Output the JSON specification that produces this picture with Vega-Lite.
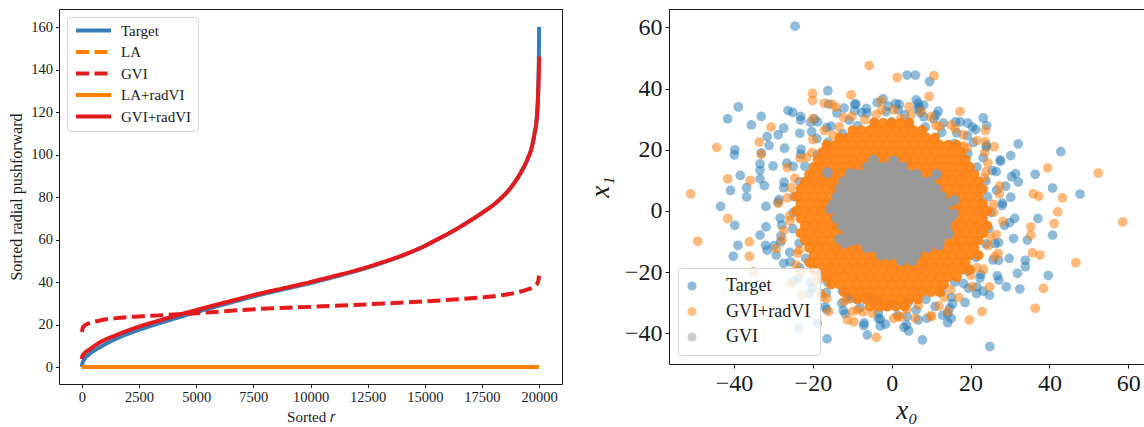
{
"$schema": "https://vega.github.io/schema/vega-lite/v6.json",
"background": "white",
"padding": {"left": 8, "top": 8, "right": 0, "bottom": 0},
"spacing": 22,
"config": {
  "font": "Liberation Serif",
  "view": {"stroke": "#1a1a1a", "strokeWidth": 1},
  "axis": {"grid": false, "domain": false, "tickColor": "#1a1a1a", "labelColor": "#1a1a1a", "titleColor": "#1a1a1a", "titleFontWeight": "normal", "labelFont": "Liberation Serif", "titleFont": "Liberation Serif"},
  "legend": {"labelFont": "Liberation Serif", "labelColor": "#1a1a1a"}
},
"datasets": {
"lines": [
{"s":"Target","i":0,"v":0},{"s":"Target","i":20,"v":1.5},{"s":"Target","i":100,"v":3.5},{"s":"Target","i":300,"v":5.8},{"s":"Target","i":742,"v":9},{"s":"Target","i":1500,"v":13.3},{"s":"Target","i":2500,"v":17.5},{"s":"Target","i":3360,"v":20.5},{"s":"Target","i":5000,"v":25.8},{"s":"Target","i":6500,"v":30.3},{"s":"Target","i":7720,"v":33.8},{"s":"Target","i":9000,"v":37},{"s":"Target","i":10000,"v":39.5},{"s":"Target","i":11000,"v":42.3},{"s":"Target","i":12000,"v":45.2},{"s":"Target","i":13000,"v":48.5},{"s":"Target","i":14000,"v":52.3},{"s":"Target","i":15000,"v":57},{"s":"Target","i":15500,"v":59.8},{"s":"Target","i":16150,"v":63.5},{"s":"Target","i":17000,"v":69},{"s":"Target","i":17500,"v":72.5},{"s":"Target","i":18240,"v":78.5},{"s":"Target","i":18800,"v":85},{"s":"Target","i":19250,"v":92.5},{"s":"Target","i":19500,"v":98},{"s":"Target","i":19690,"v":104},{"s":"Target","i":19800,"v":110},{"s":"Target","i":19910,"v":119},{"s":"Target","i":19970,"v":135},{"s":"Target","i":19990,"v":148},{"s":"Target","i":20000,"v":160},
{"s":"LA","i":0,"v":0},{"s":"LA","i":20000,"v":0},
{"s":"GVI","i":0,"v":16.5},{"s":"GVI","i":30,"v":18},{"s":"GVI","i":100,"v":19.3},{"s":"GVI","i":300,"v":20.5},{"s":"GVI","i":742,"v":21.8},{"s":"GVI","i":1500,"v":23},{"s":"GVI","i":2500,"v":23.8},{"s":"GVI","i":3360,"v":24.3},{"s":"GVI","i":5000,"v":25.3},{"s":"GVI","i":7720,"v":27.3},{"s":"GVI","i":10000,"v":28.3},{"s":"GVI","i":12500,"v":29.5},{"s":"GVI","i":15000,"v":30.9},{"s":"GVI","i":16440,"v":31.9},{"s":"GVI","i":17500,"v":32.8},{"s":"GVI","i":18500,"v":34},{"s":"GVI","i":19000,"v":35},{"s":"GVI","i":19500,"v":36.5},{"s":"GVI","i":19800,"v":38},{"s":"GVI","i":19950,"v":40},{"s":"GVI","i":20000,"v":43},
{"s":"LA+radVI","i":0,"v":0},{"s":"LA+radVI","i":20000,"v":0},
{"s":"GVI+radVI","i":0,"v":3.8},{"s":"GVI+radVI","i":20,"v":5},{"s":"GVI+radVI","i":100,"v":6.3},{"s":"GVI+radVI","i":300,"v":8},{"s":"GVI+radVI","i":742,"v":11.3},{"s":"GVI+radVI","i":1500,"v":15},{"s":"GVI+radVI","i":2500,"v":19},{"s":"GVI+radVI","i":3360,"v":21.8},{"s":"GVI+radVI","i":5000,"v":26.8},{"s":"GVI+radVI","i":6500,"v":31},{"s":"GVI+radVI","i":7720,"v":34.4},{"s":"GVI+radVI","i":9000,"v":37.5},{"s":"GVI+radVI","i":10000,"v":40},{"s":"GVI+radVI","i":11000,"v":42.7},{"s":"GVI+radVI","i":12000,"v":45.5},{"s":"GVI+radVI","i":13000,"v":48.8},{"s":"GVI+radVI","i":14000,"v":52.5},{"s":"GVI+radVI","i":15000,"v":57},{"s":"GVI+radVI","i":15500,"v":59.8},{"s":"GVI+radVI","i":16150,"v":63.5},{"s":"GVI+radVI","i":17000,"v":69},{"s":"GVI+radVI","i":17500,"v":72.5},{"s":"GVI+radVI","i":18240,"v":78.5},{"s":"GVI+radVI","i":18800,"v":85},{"s":"GVI+radVI","i":19250,"v":92.5},{"s":"GVI+radVI","i":19500,"v":98},{"s":"GVI+radVI","i":19690,"v":104},{"s":"GVI+radVI","i":19800,"v":110},{"s":"GVI+radVI","i":19910,"v":119},{"s":"GVI+radVI","i":19970,"v":133},{"s":"GVI+radVI","i":19990,"v":140},{"s":"GVI+radVI","i":20000,"v":146}
],
"target": [
{"x":25.2,"y":-0.5},{"x":28,"y":1.8},{"x":31.2,"y":-2.4},{"x":24.3,"y":4.6},{"x":26.6,"y":6.8},{"x":30.2,"y":4.5},{"x":23.9,"y":9.8},{"x":26.5,"y":12.9},{"x":30.4,"y":11.2},{"x":21.6,"y":14.3},{"x":23.2,"y":17.4},{"x":27.6,"y":16.2},{"x":19.3,"y":18.7},{"x":20.7,"y":22.4},{"x":24,"y":20.9},{"x":15.9,"y":22},{"x":16.5,"y":25.5},{"x":21.3,"y":26.6},{"x":12.7,"y":25.7},{"x":13.1,"y":28.7},{"x":16.2,"y":29.1},{"x":8.5,"y":27.4},{"x":8.1,"y":30.8},{"x":11.8,"y":32.6},{"x":4.4,"y":29},{"x":3.3,"y":31.5},{"x":6.6,"y":33.4},{"x":0,"y":29.1},{"x":-1.4,"y":32.5},{"x":1,"y":35.1},{"x":-4.4,"y":29},{"x":-6.3,"y":32},{"x":-3.7,"y":35.4},{"x":-8.7,"y":27.9},{"x":-10.8,"y":29.7},{"x":-9.1,"y":34.9},{"x":-12.5,"y":25.2},{"x":-15.4,"y":27.7},{"x":-13.9,"y":32},{"x":-16.2,"y":22.4},{"x":-19,"y":23.7},{"x":-18.8,"y":29.1},{"x":-18.9,"y":18.4},{"x":-23,"y":20.1},{"x":-23.3,"y":25.4},{"x":-22,"y":14.6},{"x":-25,"y":14.6},{"x":-27.2,"y":20.5},{"x":-23.5,"y":9.6},{"x":-27.3,"y":9.4},{"x":-30.1,"y":14.7},{"x":-24.8,"y":4.7},{"x":-28.6,"y":3.7},{"x":-32.3,"y":8.3},{"x":-25,"y":-0.5},{"x":-28.3,"y":-2.3},{"x":-31.9,"y":1.5},{"x":-25.1,"y":-5.8},{"x":-28.1,"y":-8.2},{"x":-31.9,"y":-5.2},{"x":-23.5,"y":-10.6},{"x":-25.9,"y":-13.5},{"x":-29.8,"y":-11.3},{"x":-21.8,"y":-15.5},{"x":-23.4,"y":-18.5},{"x":-27.4,"y":-17.1},{"x":-18.9,"y":-19.4},{"x":-20.7,"y":-23.4},{"x":-24.9,"y":-22.8},{"x":-16.2,"y":-23.4},{"x":-16.6,"y":-26.7},{"x":-20.8,"y":-27},{"x":-12.5,"y":-26.2},{"x":-12.7,"y":-30.2},{"x":-16.9,"y":-31.3},{"x":-8.7,"y":-28.9},{"x":-8,"y":-31.6},{"x":-11.8,"y":-33.6},{"x":-4.3,"y":-29.4},{"x":-3.4,"y":-33.3},{"x":-7,"y":-36.6},{"x":0,"y":-30.4},{"x":1.5,"y":-34.1},{"x":-1.6,"y":-37},{"x":4.3,"y":-29.7},{"x":6.2,"y":-32.4},{"x":3.8,"y":-37.3},{"x":8.7,"y":-28.9},{"x":11,"y":-31.2},{"x":8.9,"y":-35.1},{"x":12.6,"y":-26.4},{"x":15.2,"y":-28.2},{"x":14.2,"y":-33.5},{"x":16,"y":-23.2},{"x":19.5,"y":-25.3},{"x":18.6,"y":-29.9},{"x":19.3,"y":-19.7},{"x":22.6,"y":-20.7},{"x":23.2,"y":-26.2},{"x":21.4,"y":-15.2},{"x":25.7,"y":-16},{"x":26.8,"y":-21.2},{"x":23.9,"y":-10.8},{"x":27.1,"y":-10.3},{"x":29.8,"y":-15.5},{"x":24.6,"y":-5.7},{"x":28.6,"y":-4.7},{"x":30.9,"y":-9},
{"x":28.1,"y":2.6},{"x":28.9,"y":8.1},{"x":25.5,"y":13.2},{"x":24.1,"y":21.4},{"x":19.2,"y":24.6},{"x":17.4,"y":29.1},{"x":11.2,"y":31.3},{"x":8.1,"y":34.6},{"x":1.9,"y":34.8},{"x":-2.2,"y":36.6},{"x":-7.6,"y":32.2},{"x":-12.1,"y":33.6},{"x":-16.5,"y":27.2},{"x":-20.3,"y":25.9},{"x":-23.1,"y":18.5},{"x":-26.6,"y":15.6},{"x":-27.4,"y":7.6},{"x":-28.9,"y":2.8},{"x":-27.9,"y":-4.6},{"x":-28.2,"y":-10.1},{"x":-25.7,"y":-16.6},{"x":-23.6,"y":-21.9},{"x":-20.1,"y":-25.2},{"x":-16.5,"y":-32.2},{"x":-12.3,"y":-32.5},{"x":-7.1,"y":-37.4},{"x":-2.9,"y":-35.3},{"x":3.1,"y":-38},{"x":6.7,"y":-35.6},{"x":12.9,"y":-34.1},{"x":15.4,"y":-30.3},{"x":21.5,"y":-27},{"x":22.4,"y":-21.9},{"x":27.1,"y":-16.1},{"x":26.2,"y":-10.7},{"x":29.9,"y":-3.8},
{"x":-24.5,"y":60.4},{"x":3.9,"y":44.4},{"x":6,"y":44.4},{"x":9.6,"y":42.3},{"x":-38.9,"y":34},{"x":-41.6,"y":30.1},{"x":-35.6,"y":28.1},{"x":-33.1,"y":30.9},{"x":-26.3,"y":32.8},{"x":-25.1,"y":32.2},{"x":-23.1,"y":30.9},{"x":-23.1,"y":29.7},{"x":-16.2,"y":39.3},{"x":-16,"y":34.9},{"x":-9.4,"y":34.9},{"x":-9.4,"y":32.8},{"x":-6.4,"y":33.5},{"x":-0.9,"y":34.3},{"x":1.6,"y":33.1},{"x":6.2,"y":36.3},{"x":6.7,"y":35.2},{"x":7,"y":33.9},{"x":7.2,"y":32.2},{"x":10.7,"y":30.1},{"x":23.2,"y":30.4},{"x":24.1,"y":27.9},{"x":19.3,"y":28.7},{"x":20.5,"y":27.4},{"x":32.1,"y":21.9},{"x":42.9,"y":19.4},{"x":36.4,"y":12},{"x":40.8,"y":7.5},{"x":47.8,"y":5.5},{"x":30.2,"y":18.1},{"x":27.5,"y":16.7},{"x":31.4,"y":12.2},{"x":32.1,"y":9.5},{"x":-39.8,"y":20},{"x":-39.9,"y":18.3},{"x":-38.4,"y":11.6},{"x":-40.9,"y":6.7},{"x":-36.8,"y":7.6},{"x":-36.8,"y":4.6},{"x":-43.4,"y":1.5},{"x":-33.1,"y":19},{"x":-33.4,"y":15.4},{"x":-33.4,"y":13.3},{"x":-33.4,"y":10.5},{"x":-31.6,"y":24.3},{"x":-31.1,"y":21.4},{"x":-28.8,"y":24.9},{"x":-27.4,"y":27.1},{"x":-20.6,"y":29},{"x":-19.6,"y":30.1},
{"x":24.9,"y":-44.3},{"x":7.8,"y":-42.1},{"x":4.3,"y":-39.2},{"x":-6.2,"y":-40.5},{"x":-2.9,"y":-37.6},{"x":-3.4,"y":-35.1},{"x":-18.9,"y":-36.7},{"x":-16.4,"y":-41.8},{"x":-23.6,"y":-38.3},{"x":14.2,"y":-36.5},{"x":15.1,"y":-35.1},{"x":29.1,"y":-24.8},{"x":32.5,"y":-25.5},{"x":31.9,"y":-20.4},{"x":33.9,"y":-18.2},{"x":33.9,"y":-16.1},{"x":34.4,"y":-9.5},{"x":39.7,"y":-21.1},{"x":40.8,"y":-7.9},{"x":37.1,"y":-2.5},{"x":-39.8,"y":-4.7},{"x":-40.2,"y":-14.8},{"x":-39,"y":-11.2},{"x":-33.4,"y":-7.9},{"x":-32,"y":-11.2},{"x":-31.6,"y":-12.8},{"x":-29.3,"y":-14.4},{"x":-11.1,"y":-28},{"x":-10.5,"y":-28.6},{"x":-5.9,"y":-28},{"x":-3.4,"y":-29.6},{"x":3.9,"y":-34.5},{"x":18.2,"y":-23.7},{"x":21.6,"y":-24.8},{"x":14.7,"y":-31.8},{"x":27.2,"y":-22.6},{"x":24.8,"y":-27.5}
],
"gviradcore": [
{"x":-4.4,"y":28.8},{"x":-2.2,"y":28.8},{"x":0,"y":28.8},{"x":2.2,"y":28.8},{"x":4.4,"y":28.8},
{"x":-9.9,"y":26.4},{"x":-7.7,"y":26.4},{"x":-5.5,"y":26.4},{"x":-3.3,"y":26.4},{"x":-1.1,"y":26.4},{"x":1.1,"y":26.4},{"x":3.3,"y":26.4},{"x":5.5,"y":26.4},{"x":7.7,"y":26.4},
{"x":-13.2,"y":24},{"x":-11,"y":24},{"x":-8.8,"y":24},{"x":-6.6,"y":24},{"x":-4.4,"y":24},{"x":-2.2,"y":24},{"x":0,"y":24},{"x":2.2,"y":24},{"x":4.4,"y":24},{"x":6.6,"y":24},{"x":8.8,"y":24},{"x":11,"y":24},
{"x":-16.5,"y":21.6},{"x":-14.3,"y":21.6},{"x":-12.1,"y":21.6},{"x":-9.9,"y":21.6},{"x":-7.7,"y":21.6},{"x":-5.5,"y":21.6},{"x":-3.3,"y":21.6},{"x":-1.1,"y":21.6},{"x":1.1,"y":21.6},{"x":3.3,"y":21.6},{"x":5.5,"y":21.6},{"x":7.7,"y":21.6},{"x":9.9,"y":21.6},{"x":12.1,"y":21.6},{"x":14.3,"y":21.6},{"x":16.5,"y":21.6},
{"x":-17.6,"y":19.2},{"x":-15.4,"y":19.2},{"x":-13.2,"y":19.2},{"x":-11,"y":19.2},{"x":-8.8,"y":19.2},{"x":-6.6,"y":19.2},{"x":-4.4,"y":19.2},{"x":-2.2,"y":19.2},{"x":0,"y":19.2},{"x":2.2,"y":19.2},{"x":4.4,"y":19.2},{"x":6.6,"y":19.2},{"x":8.8,"y":19.2},{"x":11,"y":19.2},{"x":13.2,"y":19.2},{"x":15.4,"y":19.2},{"x":17.6,"y":19.2},
{"x":-18.7,"y":16.8},{"x":-16.5,"y":16.8},{"x":-14.3,"y":16.8},{"x":-12.1,"y":16.8},{"x":-9.9,"y":16.8},{"x":-7.7,"y":16.8},{"x":-5.5,"y":16.8},{"x":-3.3,"y":16.8},{"x":-1.1,"y":16.8},{"x":1.1,"y":16.8},{"x":3.3,"y":16.8},{"x":5.5,"y":16.8},{"x":7.7,"y":16.8},{"x":9.9,"y":16.8},{"x":12.1,"y":16.8},{"x":14.3,"y":16.8},{"x":16.5,"y":16.8},{"x":18.7,"y":16.8},
{"x":-19.8,"y":14.4},{"x":-17.6,"y":14.4},{"x":-15.4,"y":14.4},{"x":-13.2,"y":14.4},{"x":-11,"y":14.4},{"x":-8.8,"y":14.4},{"x":-6.6,"y":14.4},{"x":-4.4,"y":14.4},{"x":2.2,"y":14.4},{"x":4.4,"y":14.4},{"x":6.6,"y":14.4},{"x":8.8,"y":14.4},{"x":11,"y":14.4},{"x":13.2,"y":14.4},{"x":15.4,"y":14.4},{"x":17.6,"y":14.4},{"x":19.8,"y":14.4},
{"x":-20.9,"y":12},{"x":-18.7,"y":12},{"x":-16.5,"y":12},{"x":-14.3,"y":12},{"x":-12.1,"y":12},{"x":-9.9,"y":12},{"x":-7.7,"y":12},{"x":5.5,"y":12},{"x":7.7,"y":12},{"x":9.9,"y":12},{"x":12.1,"y":12},{"x":14.3,"y":12},{"x":16.5,"y":12},{"x":18.7,"y":12},{"x":20.9,"y":12},
{"x":-22,"y":9.6},{"x":-19.8,"y":9.6},{"x":-17.6,"y":9.6},{"x":-15.4,"y":9.6},{"x":-13.2,"y":9.6},{"x":-11,"y":9.6},{"x":8.8,"y":9.6},{"x":11,"y":9.6},{"x":13.2,"y":9.6},{"x":15.4,"y":9.6},{"x":17.6,"y":9.6},{"x":19.8,"y":9.6},{"x":22,"y":9.6},
{"x":-23.1,"y":7.2},{"x":-20.9,"y":7.2},{"x":-18.7,"y":7.2},{"x":-16.5,"y":7.2},{"x":-14.3,"y":7.2},{"x":-12.1,"y":7.2},{"x":9.9,"y":7.2},{"x":12.1,"y":7.2},{"x":14.3,"y":7.2},{"x":16.5,"y":7.2},{"x":18.7,"y":7.2},{"x":20.9,"y":7.2},{"x":23.1,"y":7.2},
{"x":-24.2,"y":4.8},{"x":-22,"y":4.8},{"x":-19.8,"y":4.8},{"x":-17.6,"y":4.8},{"x":-15.4,"y":4.8},{"x":-13.2,"y":4.8},{"x":11,"y":4.8},{"x":13.2,"y":4.8},{"x":15.4,"y":4.8},{"x":17.6,"y":4.8},{"x":19.8,"y":4.8},{"x":22,"y":4.8},
{"x":-23.1,"y":2.4},{"x":-20.9,"y":2.4},{"x":-18.7,"y":2.4},{"x":-16.5,"y":2.4},{"x":-14.3,"y":2.4},{"x":12.1,"y":2.4},{"x":14.3,"y":2.4},{"x":16.5,"y":2.4},{"x":18.7,"y":2.4},{"x":20.9,"y":2.4},{"x":23.1,"y":2.4},
{"x":-24.2,"y":0},{"x":-22,"y":0},{"x":-19.8,"y":0},{"x":-17.6,"y":0},{"x":-15.4,"y":0},{"x":-13.2,"y":0},{"x":13.2,"y":0},{"x":15.4,"y":0},{"x":17.6,"y":0},{"x":19.8,"y":0},{"x":22,"y":0},{"x":24.2,"y":0},
{"x":-23.1,"y":-2.4},{"x":-20.9,"y":-2.4},{"x":-18.7,"y":-2.4},{"x":-16.5,"y":-2.4},{"x":-14.3,"y":-2.4},{"x":-12.1,"y":-2.4},{"x":14.3,"y":-2.4},{"x":16.5,"y":-2.4},{"x":18.7,"y":-2.4},{"x":20.9,"y":-2.4},{"x":23.1,"y":-2.4},
{"x":-22,"y":-4.8},{"x":-19.8,"y":-4.8},{"x":-17.6,"y":-4.8},{"x":-15.4,"y":-4.8},{"x":-13.2,"y":-4.8},{"x":-11,"y":-4.8},{"x":13.2,"y":-4.8},{"x":15.4,"y":-4.8},{"x":17.6,"y":-4.8},{"x":19.8,"y":-4.8},{"x":22,"y":-4.8},{"x":24.2,"y":-4.8},
{"x":-23.1,"y":-7.2},{"x":-20.9,"y":-7.2},{"x":-18.7,"y":-7.2},{"x":-16.5,"y":-7.2},{"x":-14.3,"y":-7.2},{"x":-12.1,"y":-7.2},{"x":-9.9,"y":-7.2},{"x":12.1,"y":-7.2},{"x":14.3,"y":-7.2},{"x":16.5,"y":-7.2},{"x":18.7,"y":-7.2},{"x":20.9,"y":-7.2},{"x":23.1,"y":-7.2},
{"x":-22,"y":-9.6},{"x":-19.8,"y":-9.6},{"x":-17.6,"y":-9.6},{"x":-15.4,"y":-9.6},{"x":-13.2,"y":-9.6},{"x":-11,"y":-9.6},{"x":-8.8,"y":-9.6},{"x":11,"y":-9.6},{"x":13.2,"y":-9.6},{"x":15.4,"y":-9.6},{"x":17.6,"y":-9.6},{"x":19.8,"y":-9.6},{"x":22,"y":-9.6},
{"x":-20.9,"y":-12},{"x":-18.7,"y":-12},{"x":-16.5,"y":-12},{"x":-14.3,"y":-12},{"x":-12.1,"y":-12},{"x":-9.9,"y":-12},{"x":-7.7,"y":-12},{"x":-5.5,"y":-12},{"x":7.7,"y":-12},{"x":9.9,"y":-12},{"x":12.1,"y":-12},{"x":14.3,"y":-12},{"x":16.5,"y":-12},{"x":18.7,"y":-12},{"x":20.9,"y":-12},
{"x":-19.8,"y":-14.4},{"x":-17.6,"y":-14.4},{"x":-15.4,"y":-14.4},{"x":-13.2,"y":-14.4},{"x":-11,"y":-14.4},{"x":-8.8,"y":-14.4},{"x":-6.6,"y":-14.4},{"x":-4.4,"y":-14.4},{"x":-2.2,"y":-14.4},{"x":4.4,"y":-14.4},{"x":6.6,"y":-14.4},{"x":8.8,"y":-14.4},{"x":11,"y":-14.4},{"x":13.2,"y":-14.4},{"x":15.4,"y":-14.4},{"x":17.6,"y":-14.4},{"x":19.8,"y":-14.4},{"x":22,"y":-14.4},
{"x":-20.9,"y":-16.8},{"x":-18.7,"y":-16.8},{"x":-16.5,"y":-16.8},{"x":-14.3,"y":-16.8},{"x":-12.1,"y":-16.8},{"x":-9.9,"y":-16.8},{"x":-7.7,"y":-16.8},{"x":-5.5,"y":-16.8},{"x":-3.3,"y":-16.8},{"x":-1.1,"y":-16.8},{"x":1.1,"y":-16.8},{"x":3.3,"y":-16.8},{"x":5.5,"y":-16.8},{"x":7.7,"y":-16.8},{"x":9.9,"y":-16.8},{"x":12.1,"y":-16.8},{"x":14.3,"y":-16.8},{"x":16.5,"y":-16.8},{"x":18.7,"y":-16.8},
{"x":-19.8,"y":-19.2},{"x":-17.6,"y":-19.2},{"x":-15.4,"y":-19.2},{"x":-13.2,"y":-19.2},{"x":-11,"y":-19.2},{"x":-8.8,"y":-19.2},{"x":-6.6,"y":-19.2},{"x":-4.4,"y":-19.2},{"x":-2.2,"y":-19.2},{"x":0,"y":-19.2},{"x":2.2,"y":-19.2},{"x":4.4,"y":-19.2},{"x":6.6,"y":-19.2},{"x":8.8,"y":-19.2},{"x":11,"y":-19.2},{"x":13.2,"y":-19.2},{"x":15.4,"y":-19.2},{"x":17.6,"y":-19.2},{"x":19.8,"y":-19.2},
{"x":-16.5,"y":-21.6},{"x":-14.3,"y":-21.6},{"x":-12.1,"y":-21.6},{"x":-9.9,"y":-21.6},{"x":-7.7,"y":-21.6},{"x":-5.5,"y":-21.6},{"x":-3.3,"y":-21.6},{"x":-1.1,"y":-21.6},{"x":1.1,"y":-21.6},{"x":3.3,"y":-21.6},{"x":5.5,"y":-21.6},{"x":7.7,"y":-21.6},{"x":9.9,"y":-21.6},{"x":12.1,"y":-21.6},{"x":14.3,"y":-21.6},{"x":16.5,"y":-21.6},
{"x":-15.4,"y":-24},{"x":-13.2,"y":-24},{"x":-11,"y":-24},{"x":-8.8,"y":-24},{"x":-6.6,"y":-24},{"x":-4.4,"y":-24},{"x":-2.2,"y":-24},{"x":0,"y":-24},{"x":2.2,"y":-24},{"x":4.4,"y":-24},{"x":6.6,"y":-24},{"x":8.8,"y":-24},{"x":11,"y":-24},{"x":13.2,"y":-24},
{"x":-12.1,"y":-26.4},{"x":-9.9,"y":-26.4},{"x":-7.7,"y":-26.4},{"x":-5.5,"y":-26.4},{"x":-3.3,"y":-26.4},{"x":-1.1,"y":-26.4},{"x":1.1,"y":-26.4},{"x":3.3,"y":-26.4},{"x":5.5,"y":-26.4},{"x":7.7,"y":-26.4},{"x":9.9,"y":-26.4},{"x":12.1,"y":-26.4},
{"x":-8.8,"y":-28.8},{"x":-6.6,"y":-28.8},{"x":-4.4,"y":-28.8},{"x":-2.2,"y":-28.8},{"x":0,"y":-28.8},{"x":2.2,"y":-28.8},{"x":4.4,"y":-28.8},{"x":6.6,"y":-28.8},
{"x":-5.5,"y":-31.2},{"x":-3.3,"y":-31.2},{"x":-1.1,"y":-31.2},{"x":1.1,"y":-31.2},{"x":3.3,"y":-31.2}
],
"gvirad": [
{"x":25.8,"y":2.2},{"x":27.4,"y":8.2},{"x":23.9,"y":12.8},{"x":23.6,"y":19.1},{"x":18.3,"y":21.3},{"x":16.1,"y":26.8},{"x":11.2,"y":27.9},{"x":7.5,"y":32.5},{"x":2.3,"y":30.2},{"x":-2.5,"y":33},{"x":-6.8,"y":29.8},{"x":-12.2,"y":30.5},{"x":-14.9,"y":24.7},{"x":-20,"y":23.3},{"x":-21.6,"y":17.5},{"x":-26.5,"y":14.2},{"x":-25.5,"y":7.6},{"x":-28.7,"y":2.5},{"x":-25.8,"y":-3.2},{"x":-27.8,"y":-9.4},{"x":-23.9,"y":-13.8},{"x":-23.2,"y":-19.8},{"x":-18.3,"y":-22.3},{"x":-16.5,"y":-28.5},{"x":-11.2,"y":-28.9},{"x":-7.3,"y":-33},{"x":-2.3,"y":-31.2},{"x":2.5,"y":-34.6},{"x":6.8,"y":-30.8},{"x":12,"y":-31},{"x":14.9,"y":-25.7},{"x":20.4,"y":-24.7},{"x":21.6,"y":-18.5},{"x":26.1,"y":-15},{"x":25,"y":-8.5},{"x":28.2,"y":-3.4},
{"x":25.9,"y":-0.4},{"x":27.3,"y":5.6},{"x":23.6,"y":10.8},{"x":24.4,"y":15.7},{"x":19.1,"y":20.5},{"x":18.2,"y":24.9},{"x":12.2,"y":27.6},{"x":9.9,"y":30.8},{"x":4.9,"y":31.4},{"x":0.6,"y":33.1},{"x":-3.9,"y":31.5},{"x":-10.1,"y":30.9},{"x":-13.3,"y":27.5},{"x":-17.1,"y":26.3},{"x":-20.2,"y":19.1},{"x":-23.2,"y":17.2},{"x":-24.6,"y":10.7},{"x":-26.5,"y":4.3},{"x":-25.9,"y":-1.6},{"x":-27.4,"y":-6.3},{"x":-23.5,"y":-12.8},{"x":-24.3,"y":-17.7},{"x":-19,"y":-22.4},{"x":-18.1,"y":-26.9},{"x":-12.1,"y":-29.6},{"x":-9.9,"y":-32.9},{"x":-4.9,"y":-33.4},{"x":0.5,"y":-35.1},{"x":3.9,"y":-32.1},{"x":9.9,"y":-34.2},{"x":13.3,"y":-28.2},{"x":17,"y":-28.3},{"x":20.1,"y":-21},{"x":23.3,"y":-19.1},{"x":24.5,"y":-11.3},{"x":26.5,"y":-7.7},
{"x":-5.7,"y":47.5},{"x":1.4,"y":43.6},{"x":10.7,"y":44.2},{"x":9.5,"y":37.4},{"x":-20.1,"y":38.4},{"x":-20.1,"y":36.1},{"x":-10.3,"y":37.9},{"x":-17.1,"y":35.2},{"x":-15.1,"y":34.8},{"x":-14.1,"y":33.9},{"x":-2.7,"y":35.9},{"x":4.4,"y":34.1},{"x":17.3,"y":32.5},{"x":15.1,"y":28.1},{"x":23.7,"y":22.7},{"x":26,"y":21},{"x":39.6,"y":14.1},{"x":52.4,"y":12.4},{"x":43.3,"y":4.3},{"x":37.3,"y":4.8},{"x":35.9,"y":5.6},{"x":42.1,"y":-0.3},{"x":-44.4,"y":20.8},{"x":-41.6,"y":10.5},{"x":-51,"y":5.6},{"x":-35.9,"y":10},{"x":-30.6,"y":27.4},{"x":-33.6,"y":22.5},{"x":-33.1,"y":18.5},{"x":-20,"y":30.1},{"x":23.8,"y":26.3},{"x":21.6,"y":23},
{"x":-49.2,"y":-9.9},{"x":-36.1,"y":-10.1},{"x":-36.1,"y":-14.8},{"x":-41.6,"y":-2.5},{"x":46.7,"y":-16.9},{"x":36.4,"y":-31.8},{"x":38.5,"y":-25.3},{"x":58.6,"y":-3.6},{"x":35.7,"y":-13.7},{"x":37.6,"y":-14.4},{"x":35.3,"y":-7.9},{"x":41.2,"y":-4.1},{"x":19.7,"y":-35.6},{"x":22.9,"y":-32.9},{"x":24.8,"y":-24.8},{"x":-3.9,"y":-41.3},{"x":-9.6,"y":-36.2},{"x":-11.2,"y":-35.6},{"x":1.6,"y":-34.5},{"x":6,"y":-35.1},{"x":10.1,"y":-34.5},{"x":14.2,"y":-32.9},{"x":-8.7,"y":-32.3},{"x":-22.9,"y":-27.5},{"x":-17.6,"y":-28},{"x":-16,"y":-32.9},{"x":-25.8,"y":-23.7},{"x":-35.2,"y":-19.9},{"x":-29.3,"y":-12.3},{"x":27,"y":-13.9},{"x":35.3,"y":-5.2}
],
"gvi": [
{"x":-6.1,"y":14.4},{"x":-3.9,"y":14.4},{"x":-1.7,"y":14.4},{"x":0.5,"y":14.4},{"x":2.7,"y":14.4},
{"x":-9.1,"y":12},{"x":-6.9,"y":12},{"x":-4.7,"y":12},{"x":-2.5,"y":12},{"x":-0.3,"y":12},{"x":1.9,"y":12},{"x":4.1,"y":12},{"x":6.3,"y":12},
{"x":-12.2,"y":9.6},{"x":-10,"y":9.6},{"x":-7.8,"y":9.6},{"x":-5.6,"y":9.6},{"x":-3.4,"y":9.6},{"x":-1.2,"y":9.6},{"x":1,"y":9.6},{"x":3.2,"y":9.6},{"x":5.4,"y":9.6},{"x":7.6,"y":9.6},{"x":9.8,"y":9.6},
{"x":-13,"y":7.2},{"x":-10.8,"y":7.2},{"x":-8.6,"y":7.2},{"x":-6.4,"y":7.2},{"x":-4.2,"y":7.2},{"x":-2,"y":7.2},{"x":0.2,"y":7.2},{"x":2.4,"y":7.2},{"x":4.6,"y":7.2},{"x":6.8,"y":7.2},{"x":9,"y":7.2},{"x":11.2,"y":7.2},
{"x":-13.8,"y":4.8},{"x":-11.6,"y":4.8},{"x":-9.4,"y":4.8},{"x":-7.2,"y":4.8},{"x":-5,"y":4.8},{"x":-2.8,"y":4.8},{"x":-0.6,"y":4.8},{"x":1.6,"y":4.8},{"x":3.8,"y":4.8},{"x":6,"y":4.8},{"x":8.2,"y":4.8},{"x":10.4,"y":4.8},{"x":12.6,"y":4.8},
{"x":-14.6,"y":2.4},{"x":-12.4,"y":2.4},{"x":-10.2,"y":2.4},{"x":-8,"y":2.4},{"x":-5.8,"y":2.4},{"x":-3.6,"y":2.4},{"x":-1.4,"y":2.4},{"x":0.8,"y":2.4},{"x":3,"y":2.4},{"x":5.2,"y":2.4},{"x":7.4,"y":2.4},{"x":9.6,"y":2.4},{"x":11.8,"y":2.4},{"x":14,"y":2.4},
{"x":-13.2,"y":0},{"x":-11,"y":0},{"x":-8.8,"y":0},{"x":-6.6,"y":0},{"x":-4.4,"y":0},{"x":-2.2,"y":0},{"x":0,"y":0},{"x":2.2,"y":0},{"x":4.4,"y":0},{"x":6.6,"y":0},{"x":8.8,"y":0},{"x":11,"y":0},{"x":13.2,"y":0},
{"x":-14,"y":-2.4},{"x":-11.8,"y":-2.4},{"x":-9.6,"y":-2.4},{"x":-7.4,"y":-2.4},{"x":-5.2,"y":-2.4},{"x":-3,"y":-2.4},{"x":-0.8,"y":-2.4},{"x":1.4,"y":-2.4},{"x":3.6,"y":-2.4},{"x":5.8,"y":-2.4},{"x":8,"y":-2.4},{"x":10.2,"y":-2.4},{"x":12.4,"y":-2.4},{"x":14.6,"y":-2.4},
{"x":-12.6,"y":-4.8},{"x":-10.4,"y":-4.8},{"x":-8.2,"y":-4.8},{"x":-6,"y":-4.8},{"x":-3.8,"y":-4.8},{"x":-1.6,"y":-4.8},{"x":0.6,"y":-4.8},{"x":2.8,"y":-4.8},{"x":5,"y":-4.8},{"x":7.2,"y":-4.8},{"x":9.4,"y":-4.8},{"x":11.6,"y":-4.8},{"x":13.8,"y":-4.8},
{"x":-11.2,"y":-7.2},{"x":-9,"y":-7.2},{"x":-6.8,"y":-7.2},{"x":-4.6,"y":-7.2},{"x":-2.4,"y":-7.2},{"x":-0.2,"y":-7.2},{"x":2,"y":-7.2},{"x":4.2,"y":-7.2},{"x":6.4,"y":-7.2},{"x":8.6,"y":-7.2},{"x":10.8,"y":-7.2},{"x":13,"y":-7.2},
{"x":-9.8,"y":-9.6},{"x":-7.6,"y":-9.6},{"x":-5.4,"y":-9.6},{"x":-3.2,"y":-9.6},{"x":-1,"y":-9.6},{"x":1.2,"y":-9.6},{"x":3.4,"y":-9.6},{"x":5.6,"y":-9.6},{"x":7.8,"y":-9.6},{"x":10,"y":-9.6},{"x":12.2,"y":-9.6},
{"x":-6.3,"y":-12},{"x":-4.1,"y":-12},{"x":-1.9,"y":-12},{"x":0.3,"y":-12},{"x":2.5,"y":-12},{"x":4.7,"y":-12},{"x":6.9,"y":-12},{"x":9.1,"y":-12},
{"x":-2.7,"y":-14.4},{"x":-0.5,"y":-14.4},{"x":1.7,"y":-14.4},{"x":3.9,"y":-14.4},{"x":6.1,"y":-14.4},
{"x":-16.3,"y":12.5},{"x":-15.5,"y":0.7},{"x":15.6,"y":-1},{"x":15.8,"y":3.5},{"x":-4.6,"y":16.6},{"x":0.5,"y":16.4},{"x":2.5,"y":-16.3},{"x":5.2,"y":-16.2},{"x":-13.2,"y":-9.1},{"x":-11.8,"y":-10.5},{"x":12,"y":-11.2},{"x":14.4,"y":-7.5},{"x":11.4,"y":12},{"x":-10.6,"y":12.2}
]
},
"hconcat": [
{
  "width": 503, "height": 375,
  "data": {"name": "lines"},
  "encoding": {
    "x": {"field": "i", "type": "quantitative", "scale": {"domain": [-1000, 21000], "nice": false, "zero": false},
      "axis": {"values": [0,2500,5000,7500,10000,12500,15000,17500,20000], "format": "d", "labelFont": "Liberation Serif", "labelFontSize": 14.5, "tickSize": 3.5, "labelPadding": 3, "title": "Sorted 𝑟", "titleFont": "Liberation Serif", "titleFontSize": 15, "titlePadding": 5}},
    "y": {"field": "v", "type": "quantitative", "scale": {"domain": [-8, 168.5], "nice": false, "zero": false},
      "axis": {"values": [0,20,40,60,80,100,120,140,160], "format": "d", "labelFont": "Liberation Serif", "labelFontSize": 14.5, "tickSize": 3.5, "labelPadding": 3, "title": "Sorted radial pushforward", "titleFont": "Liberation Serif", "titleFontSize": 16, "titlePadding": 6}},
    "color": {"field": "s", "type": "nominal",
      "scale": {"domain": ["Target","LA","GVI","LA+radVI","GVI+radVI"], "range": ["#377eb8","#ff7f00","#e41a1c","#ff7f00","#e41a1c"]},
      "legend": {"title": null, "orient": "top-left", "offset": 8, "padding": 6, "strokeColor": "#d5d5d5", "fillColor": "white", "cornerRadius": 3, "labelFontSize": 15, "symbolType": "M-3.5,0H3.5", "symbolSize": 100, "symbolStrokeWidth": 4, "symbolOffset": 13, "labelOffset": 20, "rowPadding": 4.5}},
    "strokeDash": {"field": "s", "type": "nominal",
      "scale": {"domain": ["Target","LA","GVI","LA+radVI","GVI+radVI"], "range": [[1,0],[13,5.5],[13,5.5],[1,0],[1,0]]},
      "legend": {"title": null, "orient": "top-left", "offset": 8, "padding": 6, "strokeColor": "#d5d5d5", "fillColor": "white", "cornerRadius": 3, "labelFontSize": 15, "symbolType": "M-3.5,0H3.5", "symbolSize": 100, "symbolStrokeWidth": 4, "symbolOffset": 13, "labelOffset": 20, "rowPadding": 4.5}}
  },
  "layer": [
    {"transform": [{"filter": "datum.s === 'Target'"}], "mark": {"type": "line", "strokeWidth": 4, "interpolate": "monotone"}},
    {"transform": [{"filter": "datum.s === 'LA'"}], "mark": {"type": "line", "strokeWidth": 4}},
    {"transform": [{"filter": "datum.s === 'GVI'"}], "mark": {"type": "line", "strokeWidth": 4, "interpolate": "monotone"}},
    {"transform": [{"filter": "datum.s === 'LA+radVI'"}], "mark": {"type": "line", "strokeWidth": 4}},
    {"transform": [{"filter": "datum.s === 'GVI+radVI'"}], "mark": {"type": "line", "strokeWidth": 4, "interpolate": "monotone"}}
  ]
},
{
  "width": 475, "height": 355,
  "encoding": {
    "x": {"field": "x", "type": "quantitative", "scale": {"domain": [-56.5, 64], "nice": false, "zero": false},
      "axis": {"values": [-40,-20,0,20,40,60], "format": "d", "labelFont": "Liberation Serif", "labelFontSize": 24, "tickSize": 4, "labelPadding": 3, "title": "x₀", "titleFont": "Liberation Serif", "titleFontStyle": "italic", "titleFontSize": 27, "titlePadding": 2}},
    "y": {"field": "y", "type": "quantitative", "scale": {"domain": [-50, 66], "nice": false, "zero": false},
      "axis": {"values": [-40,-20,0,20,40,60], "format": "d", "labelFont": "Liberation Serif", "labelFontSize": 24, "tickSize": 4, "labelPadding": 3, "title": "x₁", "titleFont": "Liberation Serif", "titleFontStyle": "italic", "titleFontSize": 27, "titlePadding": 10}},
    "color": {"datum": "Target", "type": "nominal",
      "scale": {"domain": ["Target","GVI+radVI","GVI"], "range": ["#1f77b4","#ff7f0e","#999999"]},
      "legend": {"title": null, "orient": "bottom-left", "offset": 9, "padding": 9, "strokeColor": "#d5d5d5", "fillColor": "rgba(255,255,255,0.8)", "cornerRadius": 3, "labelFontSize": 18, "symbolType": "circle", "symbolSize": 85, "symbolStrokeWidth": 0, "symbolOffset": -4, "labelOffset": 25, "rowPadding": 7.5,
        "encode": {"symbols": {"update": {"opacity": {"signal": "datum.value === 'GVI' ? 1 : 0.5"}}}}}}
  },
  "layer": [
    {"data": {"name": "target"}, "mark": {"type": "circle", "size": 95, "opacity": 0.5}, "encoding": {"color": {"datum": "Target", "type": "nominal"}}},
    {"data": {"name": "gviradcore"}, "mark": {"type": "circle", "size": 105, "opacity": 0.92}, "encoding": {"color": {"datum": "GVI+radVI", "type": "nominal"}}},
    {"data": {"name": "gvirad"}, "mark": {"type": "circle", "size": 95, "opacity": 0.55}, "encoding": {"color": {"datum": "GVI+radVI", "type": "nominal"}}},
    {"data": {"name": "gvi"}, "mark": {"type": "circle", "size": 115, "opacity": 1}, "encoding": {"color": {"datum": "GVI", "type": "nominal"}}}
  ]
}
],
"resolve": {"scale": {"color": "independent", "strokeDash": "independent"}, "legend": {"color": "independent", "strokeDash": "independent"}}
}
